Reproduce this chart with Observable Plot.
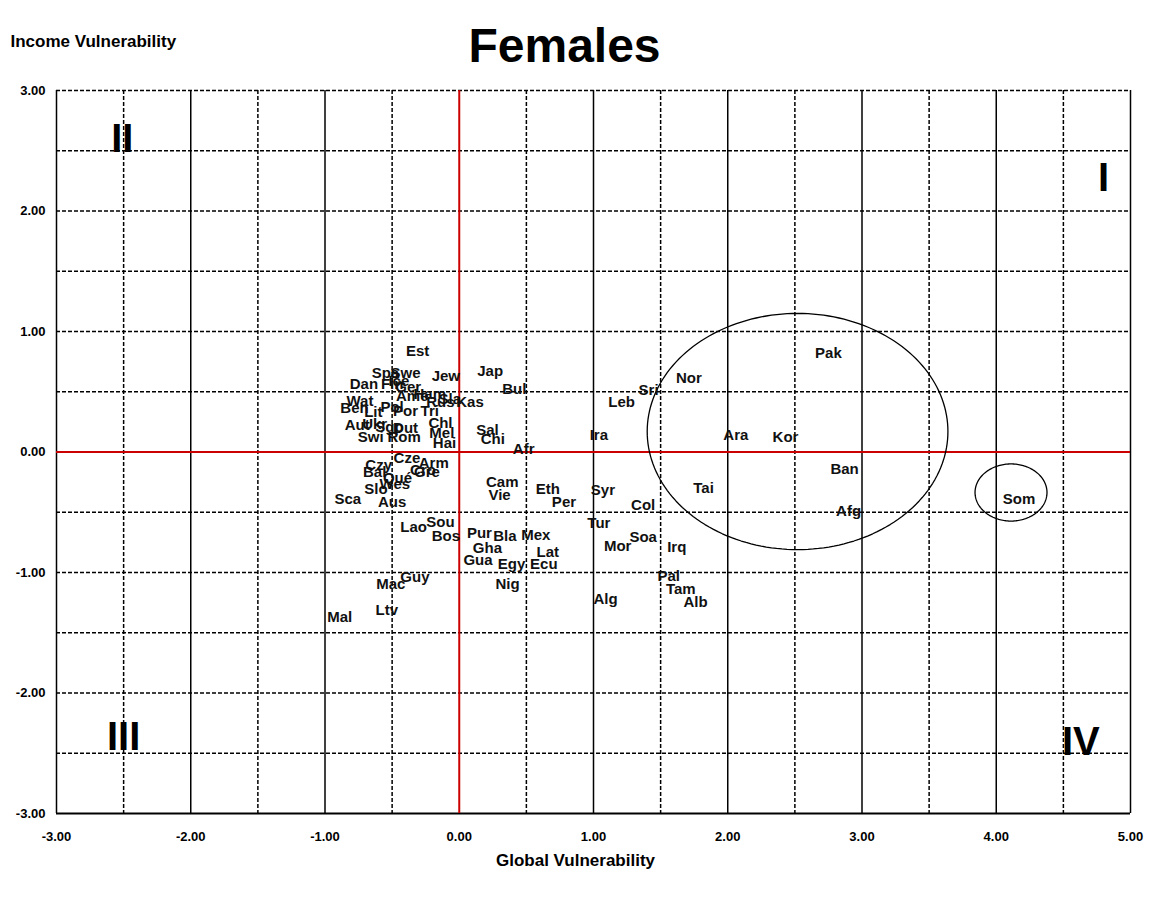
<!DOCTYPE html>
<html><head><meta charset="utf-8">
<script src="https://cdn.jsdelivr.net/npm/d3@7"></script>
<script src="https://cdn.jsdelivr.net/npm/@observablehq/plot@0.6"></script>
<style>
html,body{margin:0;padding:0;background:#fff;}
#chart{width:1149px;height:905px;}
</style></head>
<body><div id="chart"></div>
<script>
const title = "Females";
const yLabel = "Income Vulnerability";
const xLabel = "Global Vulnerability";

const countries = ["Est","Jew","Jap","Bul","Sri","Nor","Pak","Leb","Ira","Ara","Kor","Ban","Tai","Afg","Som",
  "Col","Syr","Per","Eth","Cam","Vie","Afr","Sal","Chi","Tur","Soa","Mor","Irq","Pal","Tam","Alb","Alg",
  "Mex","Bla","Pur","Gha","Gua","Egy","Ecu","Lat","Nig","Sou","Bos","Lao","Guy","Mac","Ltv","Mal",
  "Sca","Slo","Wes","Aus","Bal","Czy","Qué","Cze","Arm","Gre","Cro",
  "Swe","Spa","Dan","Fin","Ice","Ger","Ame","Ham","Sla","Rus","Kas","Ben","Wat","Pol","Lit","Por","Tri",
  "Aut","Ukr","Sgp","Dut","Swi","Rom","Chl","Mel","Hai"];
const globalV = [-0.31,-0.10,0.23,0.41,1.41,1.71,2.75,1.21,1.04,2.06,2.43,2.87,1.82,2.90,4.17,
  1.37,1.07,0.78,0.66,0.32,0.30,0.48,0.21,0.25,1.04,1.37,1.18,1.62,1.56,1.65,1.76,1.09,
  0.57,0.34,0.15,0.21,0.14,0.39,0.63,0.66,0.36,-0.14,-0.10,-0.34,-0.33,-0.51,-0.54,-0.89,
  -0.83,-0.62,-0.48,-0.50,-0.63,-0.60,-0.46,-0.39,-0.19,-0.24,-0.27,
  -0.40,-0.55,-0.71,-0.50,-0.45,-0.38,-0.35,-0.22,-0.07,-0.14,0.08,-0.78,-0.74,-0.50,-0.64,-0.40,-0.22,
  -0.76,-0.63,-0.52,-0.40,-0.66,-0.41,-0.14,-0.13,-0.11];
const incomeV = [0.84,0.63,0.67,0.52,0.51,0.61,0.82,0.41,0.14,0.14,0.12,-0.14,-0.30,-0.49,-0.39,
  -0.44,-0.32,-0.42,-0.31,-0.25,-0.36,0.02,0.18,0.11,-0.59,-0.71,-0.78,-0.79,-1.03,-1.14,-1.25,-1.22,
  -0.69,-0.70,-0.67,-0.80,-0.90,-0.93,-0.93,-0.83,-1.10,-0.58,-0.70,-0.62,-1.04,-1.10,-1.31,-1.37,
  -0.39,-0.31,-0.27,-0.42,-0.17,-0.11,-0.22,-0.05,-0.09,-0.17,-0.15,
  0.65,0.65,0.56,0.56,0.59,0.54,0.46,0.48,0.44,0.41,0.41,0.36,0.42,0.37,0.33,0.34,0.34,
  0.22,0.23,0.21,0.20,0.12,0.12,0.24,0.16,0.07];

const xTicks = [-3,-2,-1,0,1,2,3,4,5];
const xHalf = [-2.5,-1.5,-0.5,0.5,1.5,2.5,3.5,4.5];
const yTicks = [-3,-2,-1,0,1,2,3];
const yLines = [-2.5,-2,-1.5,-1,-0.5,0.5,1,1.5,2,2.5];

const quadrantNames = ["II","I","III","IV"];
const quadrantX = [-2.51,4.80,-2.50,4.63];
const quadrantY = [2.60,2.27,-2.37,-2.41];

const ellipseCx = [2.52,4.11];
const ellipseCy = [0.17,-0.336];
const ellipseRx = [1.12,0.268];
const ellipseRy = [0.98,0.237];

const points = countries.map((c,i)=>({name:c,x:globalV[i],y:incomeV[i]}));
const quads = quadrantNames.map((n,i)=>({name:n,x:quadrantX[i],y:quadrantY[i]}));
const ellipsePts = [];
ellipseCx.forEach((cx,k)=>{
  for(let j=0;j<=180;j++){
    const t = j/180*2*Math.PI;
    ellipsePts.push({id:k,x:cx+ellipseRx[k]*Math.cos(t),y:ellipseCy[k]+ellipseRy[k]*Math.sin(t)});
  }
});
const fmt = d => d.toFixed(2);

const chart = Plot.plot({
  width:1149, height:905,
  marginLeft:56, marginRight:19, marginTop:90, marginBottom:92,
  style:{fontFamily:"'Liberation Sans', Arial, sans-serif", fontWeight:"bold", background:"#fff"},
  x:{domain:[-3,5], ticks:xTicks, tickFormat:fmt, tickSize:0, tickPadding:18, label:null},
  y:{domain:[-3,3], ticks:yTicks, tickFormat:fmt, tickSize:0, tickPadding:12, label:null},
  marks:[
    Plot.ruleY(yLines,{stroke:"#000",strokeWidth:1.5,strokeDasharray:"4,2"}),
    Plot.ruleX(xHalf,{stroke:"#000",strokeWidth:1.5,strokeDasharray:"4,2"}),
    Plot.ruleX(xTicks.filter(d=>d!==0),{stroke:"#000",strokeWidth:1.5}),
    Plot.ruleY([3],{stroke:"#000",strokeWidth:1.5,strokeDasharray:"4,2"}),
    Plot.ruleY([-3],{stroke:"#000",strokeWidth:2}),
    Plot.ruleY([0],{stroke:"#cc0000",strokeWidth:2}),
    Plot.ruleX([0],{stroke:"#cc0000",strokeWidth:2}),
    Plot.line(ellipsePts,{x:"x",y:"y",z:"id",stroke:"#000",strokeWidth:1.3,curve:"linear"}),
    Plot.text(points,{x:"x",y:"y",text:"name",fontSize:15,fontWeight:"bold",fill:"#111"}),
    Plot.text(quads,{x:"x",y:"y",text:"name",fontSize:40,fontWeight:"bold",fill:"#000"}),
    Plot.axisX({ticks:xTicks,tickFormat:fmt,tickSize:0,tickPadding:18,fontSize:13,fontWeight:"bold",label:null}),
    Plot.axisY({ticks:yTicks,tickFormat:fmt,tickSize:0,tickPadding:11,fontSize:13,fontWeight:"bold",label:null}),
    Plot.text([title],{frameAnchor:"top",dy:-63,dx:-29,fontSize:48,fontWeight:"bold"}),
    Plot.text([yLabel],{frameAnchor:"top-left",dx:-46,dy:-56,textAnchor:"start",fontSize:17,fontWeight:"bold"}),
    Plot.text([xLabel],{frameAnchor:"bottom",dy:52,dx:-18,fontSize:17,fontWeight:"bold"})
  ]
});
document.getElementById("chart").appendChild(chart);
</script>
</body></html>
